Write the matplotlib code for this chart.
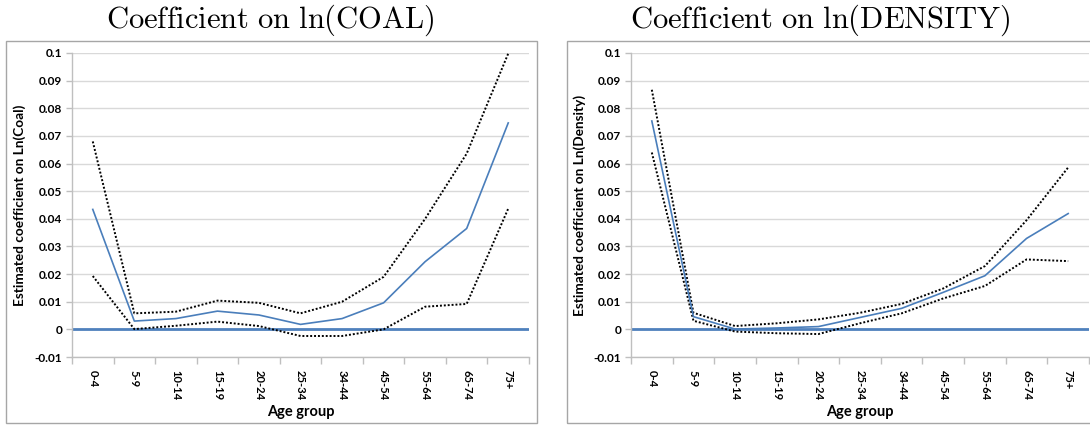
import matplotlib
matplotlib.use("Agg")
import matplotlib.pyplot as plt
from matplotlib.patches import Rectangle
import numpy as np

categories = ["0-4", "5-9", "10-14", "15-19", "20-24", "25-34", "34-44",
              "45-54", "55-64", "65-74", "75+"]

coal_est = [0.0434, 0.0030, 0.0039, 0.0066, 0.0052, 0.0018, 0.0039,
            0.0096, 0.0245, 0.0365, 0.0747]
coal_upper = [0.0680, 0.0058, 0.0064, 0.0104, 0.0096, 0.0058, 0.0100,
              0.0190, 0.0400, 0.0636, 0.0998]
coal_lower = [0.0193, 0.0001, 0.0013, 0.0028, 0.0012, -0.0024, -0.0024,
              0.0000, 0.0082, 0.0092, 0.0437]

dens_est = [0.0754, 0.0046, 0.0001, 0.0005, 0.0010, 0.0043, 0.0076,
            0.0134, 0.0194, 0.0329, 0.0419]
dens_upper = [0.0867, 0.0060, 0.0012, 0.0022, 0.0036, 0.0060, 0.0092,
              0.0148, 0.0229, 0.0395, 0.0586]
dens_lower = [0.0640, 0.0031, -0.0008, -0.0014, -0.0017, 0.0022, 0.0058,
              0.0112, 0.0157, 0.0253, 0.0247]

yticks = [-0.01, 0, 0.01, 0.02, 0.03, 0.04, 0.05, 0.06, 0.07, 0.08, 0.09, 0.1]
ytick_labels = ["-0.01", "0", "0.01", "0.02", "0.03", "0.04", "0.05", "0.06",
                "0.07", "0.08", "0.09", "0.1"]

titles = ["Coefficient\\ on\\ ln(COAL)", "Coefficient\\ on\\ ln(DENSITY)"]
ylabels = ["Estimated coefficient on Ln(Coal)", "Estimated coefficient on Ln(Density)"]

plt.rcParams["mathtext.fontset"] = "cm"
W, H = 1090, 425
fig = plt.figure(figsize=(W / 100, H / 100), dpi=100)

BLUE = "#4a7ebb"
ZERO = "#4f81bd"
GRID = "#d9d9d9"
AX = "#bfbfbf"
FRAME = "#a6a6a6"
lab_font = dict(family="Lato", weight="bold")

panels = [
    dict(ax=(72, 529), frame=(6, 537), title_x=270, ylab_x=20,
         est=coal_est, up=coal_upper, lo=coal_lower),
    dict(ax=(631, 1089), frame=(567, 1095), title_x=820, ylab_x=580,
         est=dens_est, up=dens_upper, lo=dens_lower),
]

y_top, y_bot = 53, 357

for i, p in enumerate(panels):
    fx0, fx1 = p["frame"]
    fig.patches.append(Rectangle((fx0 / W, 1 - 423 / H), (fx1 - fx0) / W,
                                 (423 - 41) / H, transform=fig.transFigure,
                                 fill=False, edgecolor=FRAME, lw=1.0))
    x0, x1 = p["ax"]
    ax = fig.add_axes([x0 / W, 1 - y_bot / H, (x1 - x0) / W, (y_bot - y_top) / H])
    x = np.arange(len(categories))
    ax.set_xlim(-0.5, len(categories) - 0.5)
    ax.set_ylim(-0.01, 0.1)
    ax.set_yticks(yticks)
    ax.set_yticklabels(ytick_labels, fontsize=8.6, **lab_font)
    ax.grid(axis="y", color=GRID, lw=1.0)
    ax.set_axisbelow(True)
    ax.axhline(0, color=ZERO, lw=2.0, zorder=2)
    ax.plot(x, p["up"], color="black", lw=1.4, ls=(0, (1, 1)), zorder=3)
    ax.plot(x, p["lo"], color="black", lw=1.4, ls=(0, (1, 1)), zorder=3)
    ax.plot(x, p["est"], color=BLUE, lw=1.2, zorder=4)

    ax.set_xticks(x)
    ax.set_xticklabels(categories, rotation=-90, fontsize=8.0, **lab_font)
    ax.set_xticks(np.arange(len(categories) + 1) - 0.5, minor=True)
    ax.tick_params(axis="x", which="major", length=0, pad=9)
    ax.tick_params(axis="x", which="minor", length=5, color=AX, width=1)
    ax.tick_params(axis="y", length=4, color=AX, width=1, pad=3)
    for s in ["top", "right"]:
        ax.spines[s].set_visible(False)
    for s in ["left", "bottom"]:
        ax.spines[s].set_color(AX)
        ax.spines[s].set_linewidth(1.0)

    fig.text((x0 + x1) / 2 / W, 1 - 412 / H, "Age group", ha="center",
             va="center", fontsize=10.5, **lab_font)
    fig.text(p["ylab_x"] / W, 1 - 205 / H, ylabels[i], rotation=90,
             ha="center", va="center", fontsize=9.8, **lab_font)
    fig.text(p["title_x"] / W, 1 - 20 / H, "$\\mathrm{" + titles[i] + "}$",
             ha="center", va="center", fontsize=22)

fig.savefig("out.png", dpi=100, facecolor="white")
